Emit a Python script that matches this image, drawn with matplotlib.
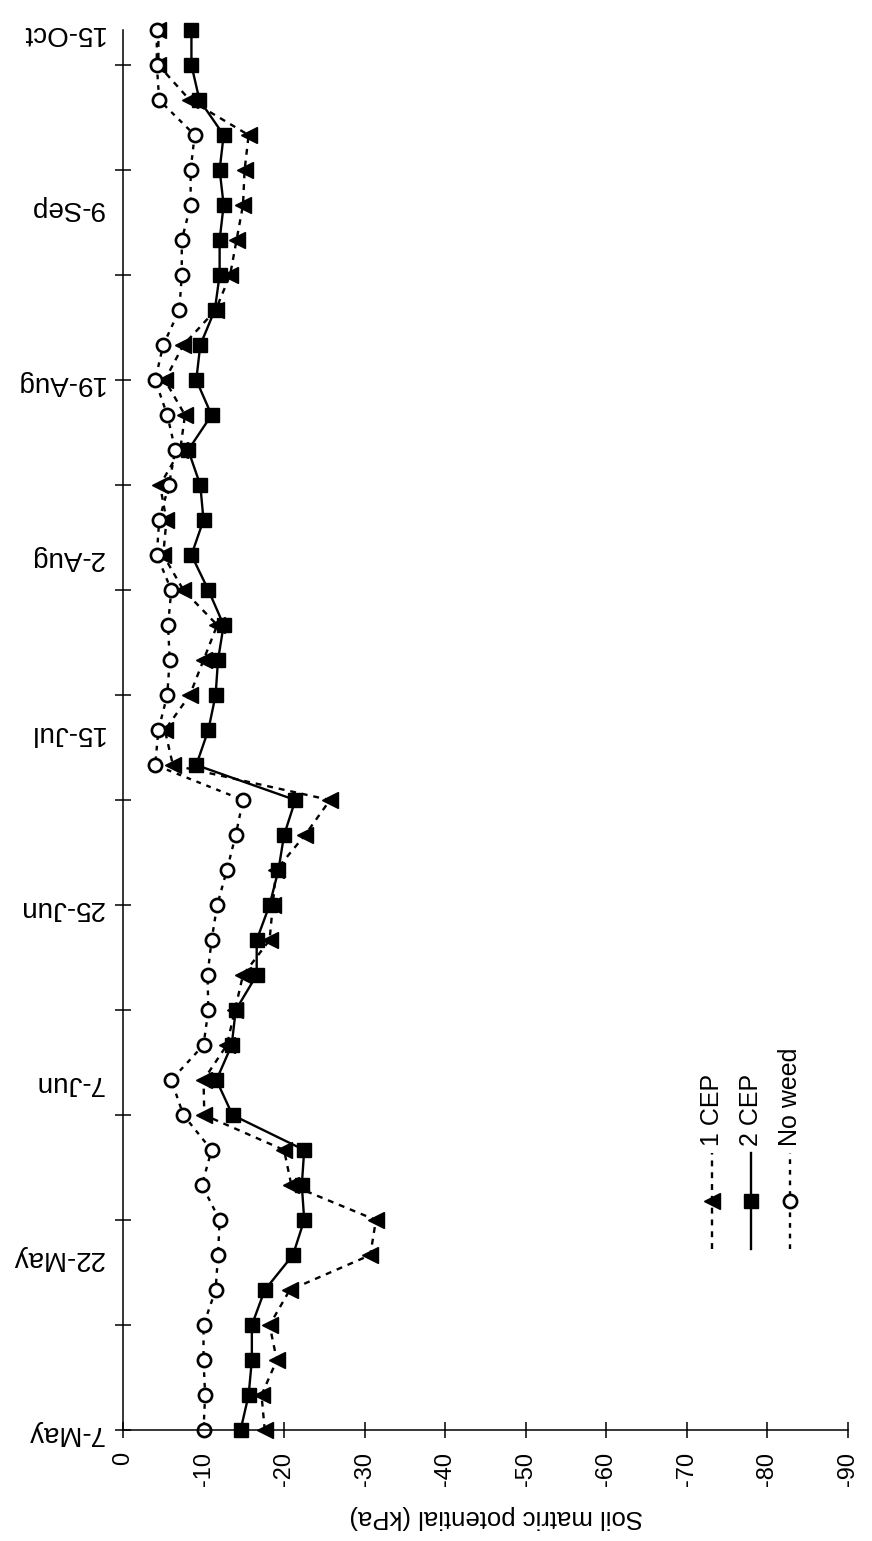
import numpy as np
import matplotlib.pyplot as plt

plt.rcParams['font.family'] = ['Liberation Sans', 'DejaVu Sans']

# sampling dates; only every fifth sampling is labelled on the axis
date_labels = ['7-May', '22-May', '7-Jun', '25-Jun', '15-Jul',
               '2-Aug', '19-Aug', '9-Sep', '15-Oct']

# soil matric potential (kPa) for each sampling
cep1 = [-17.6, -17.2, -19.1, -18.2, -20.7, -30.7, -31.4, -20.9, -20.0, -10.1,
        -10.0, -12.9, -13.9, -14.9, -18.2, -18.6, -19.0, -22.6, -25.7, -6.2,
        -5.2, -8.3, -10.0, -11.7, -7.5, -5.0, -5.4, -4.6, -7.1, -7.7,
        -5.2, -7.5, -11.5, -13.3, -14.1, -14.9, -15.1, -15.6, -8.3, -4.4,
        -4.4]
cep2 = [-14.6, -15.6, -16.0, -16.0, -17.6, -21.1, -22.5, -22.2, -22.5, -13.6,
        -11.6, -13.5, -14.0, -16.6, -16.6, -18.2, -19.3, -20.0, -21.4, -9.1,
        -10.6, -11.5, -11.8, -12.5, -10.6, -8.5, -10.0, -9.6, -8.1, -11.0,
        -9.1, -9.6, -11.4, -12.0, -12.0, -12.5, -12.0, -12.5, -9.5, -8.5,
        -8.5]
no_weed = [-10.0, -10.2, -10.0, -10.0, -11.5, -11.8, -12.0, -9.8, -11.0, -7.5,
           -6.0, -10.0, -10.6, -10.5, -11.0, -11.7, -12.9, -14.0, -14.9, -4.0,
           -4.4, -5.5, -5.8, -5.6, -6.0, -4.2, -4.5, -5.7, -6.5, -5.5,
           -4.0, -5.0, -7.0, -7.3, -7.3, -8.4, -8.4, -8.9, -4.5, -4.2,
           -4.2]

series_names = ['1 CEP', '2 CEP', 'No weed']
value_ticks = np.arange(0, -91, -10)

styles = [
    dict(color='k', lw=1.7, ls=(0, (2.5, 2.5)), marker='<', ms=11.5),
    dict(color='k', lw=1.7, ls='-', marker='s', ms=10.5),
    dict(color='k', lw=1.7, ls=(0, (2, 2.5)), marker='o', ms=9.5,
         mfc='white', mec='k', mew=1.9),
]

n = len(cep2)
idx = np.arange(n)

fig = plt.figure(figsize=(8.72, 15.41), dpi=100)
ax = fig.add_axes([0.141, 0.072, 0.8315, 0.9085])

for vals, st in zip([cep1, cep2, no_weed], styles):
    ax.plot(vals, idx, clip_on=False, **st)

ax.set_xlim(0, -90)
ax.set_ylim(0, n - 1)

for s in ['top', 'right']:
    ax.spines[s].set_visible(False)
for s in ['left', 'bottom']:
    ax.spines[s].set_linewidth(1.1)

ax.set_xticks(value_ticks, [str(v) for v in value_ticks])
ax.tick_params(axis='x', direction='inout', length=12, width=1.1, pad=10,
               labelsize=17, labelrotation=90)

# tick marks every third sampling, date labels every fifth
ax.yaxis.remove_overlapping_locs = False
ax.set_yticks(np.arange(0, n - 1, 3), [])
ax.set_yticks(np.arange(0, n, 5), date_labels, minor=True)
ax.tick_params(axis='y', which='major', direction='inout', length=12, width=1.1)
ax.tick_params(axis='y', which='minor', length=0, pad=14, labelsize=20,
               labelrotation=180)

ax.text(0.515, -0.062, 'Soil matric potential (kPa)', transform=ax.transAxes,
        rotation=180, ha='center', va='center', fontsize=18.5)

# key drawn upright along the value axis
key_x = [0.812, 0.866, 0.920]
for name, st, kx in zip(series_names, styles, key_x):
    line_st = {k: v for k, v in st.items() if k not in ('marker', 'ms', 'mfc', 'mec', 'mew')}
    ax.plot([kx, kx], [0.129, 0.198], transform=ax.transAxes, clip_on=False, **line_st)
    ax.plot([kx], [0.1635], transform=ax.transAxes, clip_on=False, ls='none',
            **{k: v for k, v in st.items() if k not in ('ls', 'lw')})
    ax.text(kx, 0.203, name, transform=ax.transAxes, rotation=90,
            ha='center', va='bottom', fontsize=18)

fig.savefig('out.png', dpi=100, facecolor='white')
